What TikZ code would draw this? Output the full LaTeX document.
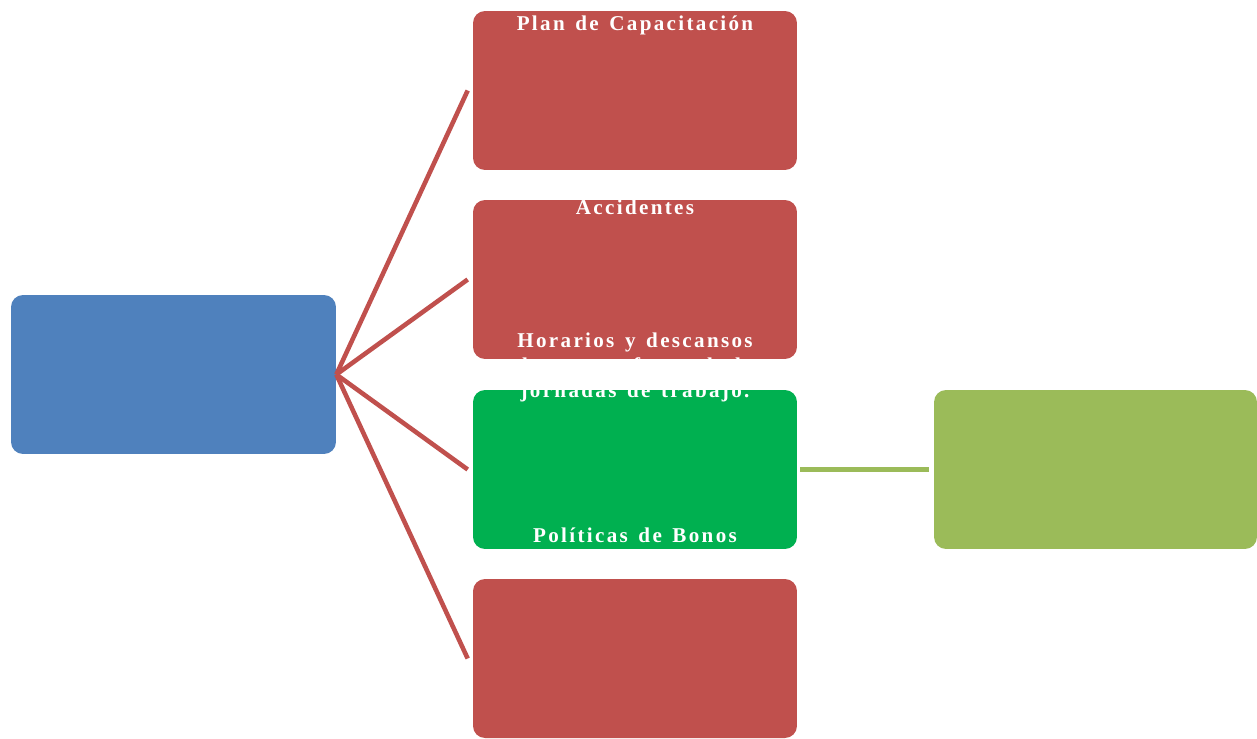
\documentclass[tikz,border=0pt]{standalone}
\usepackage{fontspec}
\setmainfont{Liberation Serif}
\newfontfamily\lblfont[LetterSpace=11,WordSpace=1.4]{Liberation Serif}
\usetikzlibrary{positioning}

\definecolor{hubblue}{HTML}{4F81BD}
\definecolor{itemred}{HTML}{C0504D}
\definecolor{itemgreen}{HTML}{00B050}
\definecolor{sideolive}{HTML}{9BBB59}

\begin{document}
\begin{tikzpicture}[
	x=0.02cm,y=-0.02cm,
	box/.style={
		rounded corners=0.24cm,
		minimum height=3.18cm,
		minimum width=6.48cm,
		inner sep=0pt,
	},
	lbl/.style={
		text=white,
		font=\lblfont\fontsize{12}{14.2}\selectfont\bfseries,
		align=center,
		anchor=base,
		inner sep=0pt,
	},
	spoke/.style={itemred,line width=2.6pt},
	every node/.style={}
]
\useasboundingbox (0,0) rectangle (1257,738);

\node [box,fill=hubblue,minimum width=6.5cm] (hub) at (173.5,374.5) {};
\node [box,fill=itemred] (plan) at (635,90.5) {};
\node [box,fill=itemred] (acc) at (635,279.5) {};
\node [box,fill=itemgreen] (hor) at (635,469.5) {};
\node [box,fill=itemred] (bon) at (635,658.5) {};
\node [box,fill=sideolive,minimum width=6.46cm] (side) at (1095.5,469.5) {};

\draw [spoke] (hub.east) -- ([xshift=-0.1cm]plan.west);
\draw [spoke] (hub.east) -- ([xshift=-0.1cm]acc.west);
\draw [spoke] (hub.east) -- ([xshift=-0.1cm]hor.west);
\draw [spoke] (hub.east) -- ([xshift=-0.1cm]bon.west);
\draw [sideolive,line width=2.9pt] ([xshift=0.06cm]hor.east) -- ([xshift=-0.1cm]side.west);

\node [lbl] (planlbl) at (635,30) {Plan de Capacitación};
\node [lbl] (acclbl) at (635,214) {Accidentes};
\node [lbl] (horlbl) at (635,397) {Horarios y descansos\\durante o fuera de la\\jornadas de trabajo.};
\node [lbl] (bonlbl) at (635,542) {Políticas de Bonos};
\end{tikzpicture}
\end{document}
